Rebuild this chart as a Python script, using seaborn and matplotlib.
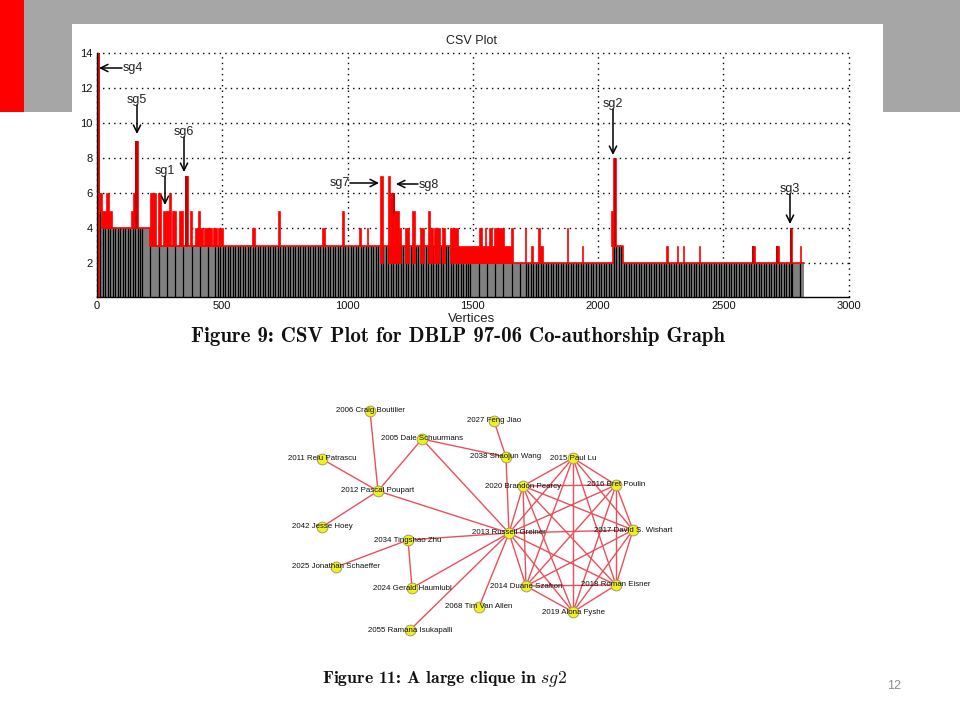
from itertools import combinations

import numpy as np
import pandas as pd
import matplotlib
matplotlib.use('Agg')
import matplotlib.pyplot as plt
from matplotlib.patches import Rectangle
import seaborn as sns

# CSV plot: base levels as runs (edges has one more entry than levels)
level_edges = [0, 4, 20, 212, 1440, 2058, 2100, 2821]
level_values = [14, 5, 4, 3, 2, 3, 2]

# red spikes: start, end, top, bottom
spike_start = [3, 13, 20, 37, 137, 145, 153, 213, 243, 263, 287, 300, 327, 350, 373, 404,
               392, 428, 462, 482, 620, 723, 897, 977, 1045, 1077,
               1128, 1160, 1170, 1185, 1207, 1231, 1256, 1291, 1321, 1330, 1347, 1377, 1411,
               1440, 1523, 1547, 1563, 1584, 1593, 1652, 1707, 1732, 1760, 1768, 1875, 1935,
               2053, 2061, 2273, 2316, 2340, 2403, 2615, 2710, 2766, 2806]
spike_end = [13, 20, 60, 47, 147, 153, 164, 237, 256, 287, 297, 317, 343, 364, 381, 412,
             425, 460, 480, 504, 629, 729, 909, 985, 1052, 1083,
             1140, 1170, 1185, 1207, 1215, 1247, 1269, 1304, 1329, 1343, 1371, 1388, 1440,
             1657, 1536, 1553, 1576, 1591, 1624, 1659, 1712, 1739, 1768, 1779, 1880, 1940,
             2061, 2071, 2280, 2321, 2345, 2407, 2625, 2722, 2775, 2812]
spike_top = [6, 6, 5, 6, 5, 6, 9, 6, 6, 5, 6, 5, 5, 7, 5, 5,
             4, 4, 4, 4, 4, 5, 4, 5, 4, 4,
             7, 7, 6, 5, 4, 4, 5, 4, 5, 4, 4, 4, 4,
             3, 4, 4, 4, 4, 4, 4, 4, 3, 4, 3, 4, 3,
             5, 8, 3, 3, 3, 3, 3, 3, 4, 3]
spike_bottom = [5, 5, 4, 4, 4, 4, 4, 3, 3, 3, 3, 3, 3, 3, 3, 3,
                3, 3, 3, 3, 3, 3, 3, 3, 3, 3,
                2, 2, 2, 2, 2, 2, 2, 2, 2, 2, 2, 2, 2,
                2, 2, 2, 2, 2, 2, 2, 2, 2, 2, 2, 2, 2,
                3, 3, 2, 2, 2, 2, 2, 2, 2, 2]
tall_start = [3]
tall_end = [13]
tall_top = [14]

# darker spikes
dark_start = [153, 350, 2063, 2768, 2615, 2710, 1183]
dark_end = [162, 362, 2071, 2774, 2623, 2720, 1190]
dark_top = [9, 7, 8, 4, 3, 3, 6]
dark_bottom = [4, 3, 3, 2, 2, 2, 4.7]

# stretches where the black stripes thin out to grey
sparse_start = [180, 1490, 2775]
sparse_end = [467, 1705, 2821]

x_ticks = [0, 500, 1000, 1500, 2000, 2500, 3000]
y_ticks = [2, 4, 6, 8, 10, 12, 14]

# arrow labels, pixel positions on the slide
sg_names = ['sg4', 'sg5', 'sg6', 'sg1', 'sg7', 'sg8', 'sg2', 'sg3']
sg_text_x = [133, 137, 184, 165, 340, 429, 613, 790]
sg_text_y = [68, 100, 132, 171, 183, 185, 104, 189]
sg_from_x = [122, 137, 184, 165, 350, 418, 613, 790]
sg_from_y = [68, 105, 137, 176, 183, 184, 109, 194]
sg_tip_x = [99, 137, 184, 165, 379, 396, 613, 790]
sg_tip_y = [68, 134, 172, 205, 183, 184, 155, 224]

# co-authorship graph
node_names = ['2006 Craig Boutilier', '2005 Dale Schuurmans', '2011 Relu Patrascu',
              '2012 Pascal Poupart', '2042 Jesse Hoey', '2034 Tingshao Zhu',
              '2025 Jonathan Schaeffer', '2024 Gerald Haumlubl', '2055 Ramana Isukapalli',
              '2027 Feng Jiao', '2038 Shaojun Wang', '2015 Paul Lu', '2020 Brandon Pearcy',
              '2016 Bret Poulin', '2017 David S. Wishart', '2013 Russell Greiner',
              '2014 Duane Szafron', '2018 Roman Eisner', '2019 Alona Fyshe', '2068 Tim Van Allen']
node_x = [370, 422, 322, 378, 322, 408, 336, 412, 410, 494, 506, 573, 523, 616, 633, 509, 526, 616, 573, 479]
node_y = [411, 439, 459, 491, 527, 540, 567, 588, 630, 421, 457, 458, 486, 485, 530, 533, 586, 585, 612, 607]
clique = ['2013', '2015', '2020', '2016', '2017', '2014', '2018', '2019']
other_edges = [('2006', '2012'), ('2011', '2012'), ('2042', '2012'), ('2005', '2012'),
               ('2012', '2013'), ('2005', '2013'), ('2005', '2038'), ('2027', '2038'),
               ('2038', '2013'), ('2034', '2013'), ('2034', '2025'), ('2034', '2024'),
               ('2024', '2013'), ('2055', '2013'), ('2068', '2013')]

sns.set_theme(style='white')
plt.rcParams['font.family'] = ['Liberation Sans', 'DejaVu Sans']
plt.rcParams['mathtext.fontset'] = 'cm'

fig = plt.figure(figsize=(9.6, 7.2), dpi=100, facecolor='white')

# slide background, in pixels
bg = fig.add_axes([0, 0, 1, 1], zorder=0)
bg.set_xlim(0, 960)
bg.set_ylim(720, 0)
bg.axis('off')
bg.add_patch(Rectangle((24, 0), 936, 112, color='#a6a6a6', lw=0))
bg.add_patch(Rectangle((0, 0), 24, 112, color='#ff0000', lw=0))
bg.add_patch(Rectangle((72, 24), 811, 340, color='white', lw=0))

# CSV plot
ax = fig.add_axes([97 / 960, 1 - 297 / 720, 751.5 / 960, 244 / 720], zorder=1)

edges = np.array(level_edges)
values = np.array(level_values)
mids = (edges[:-1] + edges[1:]) / 2
sns.histplot(x=mids, weights=values, bins=level_edges, element='bars', color='#808080',
             alpha=1, linewidth=0, ax=ax, zorder=2)

# black stripes, aliased in the scan
stripe_x = np.arange(2, 2821, 10.0)
for a, b in zip(sparse_start, sparse_end):
    inside = (stripe_x >= a) & (stripe_x < b)
    stripe_x = stripe_x[~inside]
    stripe_x = np.sort(np.concatenate([stripe_x, np.arange(a, b, 33.0)]))
stripe_top = values[np.clip(np.searchsorted(edges, stripe_x, side='right') - 1, 0, len(values) - 1)]
ax.vlines(stripe_x, 0, stripe_top, color='black', lw=0.9, zorder=3)

# red line along the top of the base
step_x = np.r_[edges[:-1], edges[-1]]
step_y = np.r_[values, values[-1]]
sns.lineplot(x=step_x[1:], y=step_y[1:], drawstyle='steps-post', color='#ff0000', lw=1.2,
             estimator=None, ax=ax, zorder=4)

s0, s1 = np.array(spike_start), np.array(spike_end)
ax.bar(s0, np.array(spike_top) - np.array(spike_bottom), width=s1 - s0,
       bottom=spike_bottom, align='edge', color='#ff0000', edgecolor='#ff0000', lw=0.5, zorder=5)
ax.bar(tall_start, tall_top, width=np.array(tall_end) - np.array(tall_start),
       align='edge', color='#e01010', lw=0, zorder=5)
d0, d1 = np.array(dark_start), np.array(dark_end)
ax.bar(d0, np.array(dark_top) - np.array(dark_bottom), width=d1 - d0,
       bottom=dark_bottom, align='edge', color='#c80000', lw=0, zorder=6)
ax.vlines(1, 0, 14, color='black', lw=1, zorder=6)

ax.set_xlim(0, 3000)
ax.set_ylim(0.06, 14)
ax.set_xticks(x_ticks)
ax.set_yticks(y_ticks)
ax.grid(True, color='black', linestyle=(0, (1, 3)), lw=1, zorder=1, clip_on=False)
ax.set_axisbelow(True)
ax.tick_params(length=0, labelsize=8, colors='#111111', pad=3)
ax.set_xlabel('')
ax.set_ylabel('')
for side in ['top', 'right']:
    ax.spines[side].set_visible(False)
for side in ['left', 'bottom']:
    ax.spines[side].set_color('black')
    ax.spines[side].set_linewidth(1)

# everything else goes on a pixel overlay
top = fig.add_axes([0, 0, 1, 1], zorder=2)
top.patch.set_alpha(0)

for name, tx, ty, fx, fy, px, py in zip(sg_names, sg_text_x, sg_text_y, sg_from_x, sg_from_y, sg_tip_x, sg_tip_y):
    top.annotate('', xy=(px, py), xytext=(fx, fy),
                 arrowprops=dict(arrowstyle='->', color='black', lw=1.1, shrinkA=0, shrinkB=0,
                                 mutation_scale=13))
    top.text(tx, ty, name, ha='center', va='center', fontsize=9, color='#222222')

top.text(472, 41, 'CSV Plot', ha='center', va='center', fontsize=9, color='#222222')
top.text(472, 319, 'Vertices', ha='center', va='center', fontsize=9.5, color='#222222')
top.text(458, 337, 'Figure 9: CSV Plot for DBLP 97-06 Co-authorship Graph', ha='center',
         va='center', fontsize=15, family='cmb10', color='#111111')
top.text(445, 679, 'Figure 11: A large clique in $sg2$', ha='center', va='center',
         fontsize=12.7, family='cmb10', color='#111111')
top.text(894, 686, '12', ha='center', va='center', fontsize=9, color='#8c8c8c')

# graph edges and nodes
nodes = pd.DataFrame({'name': node_names, 'x': node_x, 'y': node_y})
nodes['id'] = nodes['name'].str[:4]
nodes = nodes.set_index('id')
pairs = list(combinations(clique, 2)) + other_edges
edge_rows = []
for k, (a, b) in enumerate(pairs):
    edge_rows.append({'edge': k, 'x': nodes.loc[a, 'x'], 'y': nodes.loc[a, 'y']})
    edge_rows.append({'edge': k, 'x': nodes.loc[b, 'x'], 'y': nodes.loc[b, 'y']})
edge_df = pd.DataFrame(edge_rows)
sns.lineplot(data=edge_df, x='x', y='y', units='edge', estimator=None, sort=False,
             color='#e8505a', lw=1.0, ax=top)
sns.scatterplot(data=nodes, x='x', y='y', s=60, color='#f0f020', edgecolor='#a0a060',
                linewidth=0.7, ax=top, zorder=5)
for _, row in nodes.iterrows():
    top.text(row['x'], row['y'], row['name'], ha='center', va='center', fontsize=5.7,
             color='#111111', zorder=6)

top.set_xlim(0, 960)
top.set_ylim(720, 0)
top.axis('off')

fig.savefig('out.png', dpi=100, facecolor='white')
